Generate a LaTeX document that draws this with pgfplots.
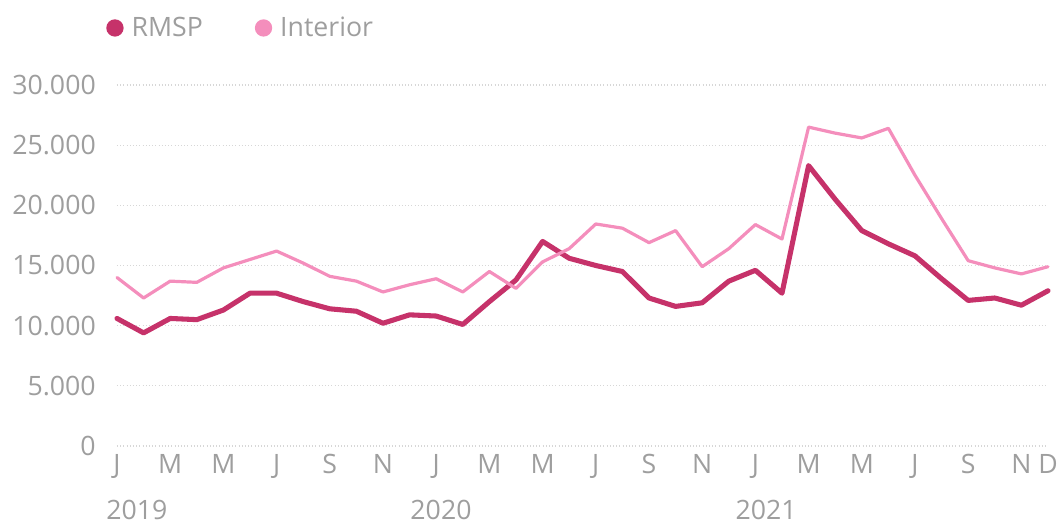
\documentclass[border=0pt]{standalone}
\usepackage{fontspec}
\setmainfont{Open Sans}
\usepackage{pgfplots}
\pgfplotsset{compat=1.18}
\definecolor{rmsp}{RGB}{198,50,106}
\definecolor{interior}{RGB}{244,142,188}
\definecolor{txt}{RGB}{158,158,158}
\definecolor{gridc}{RGB}{215,215,215}
\begin{document}
\begin{tikzpicture}
\path[use as bounding box] (0,0) rectangle (795.75pt,393.75pt);
\begin{axis}[
  at={(87.75pt,59.25pt)}, anchor=south west,
  scale only axis, width=698.25pt, height=270.75pt,
  xmin=0, xmax=35, ymin=0, ymax=30000,
  axis line style={draw=none},
  major tick length=0pt,
  xtick={0,2,4,6,8,10,12,14,16,18,20,22,24,26,28,30,32,34,35},
  xticklabels={J,M,M,J,S,N,J,M,M,J,S,N,J,M,M,J,S,N,D},
  ytick={0,5000,10000,15000,20000,25000,30000},
  scaled y ticks=false,
  /pgf/number format/.cd, 1000 sep={.}, assume math mode=true,
  /pgfplots/.cd,
  ymajorgrids, grid style={gridc, dotted, line width=0.8pt},
  tick label style={font=\fontsize{20}{24}\selectfont, text=txt},
  xticklabel style={anchor=north, inner sep=0pt, yshift=-6pt},
  yticklabel style={anchor=east, inner sep=0pt, xshift=-15.75pt},
  clip=false,
  legend columns=2,
  legend style={draw=none, fill=none, inner sep=0pt, at={(-0.0118,1.158)}, anchor=west,
    font=\fontsize{20}{24}\selectfont, text=txt,
    /tikz/every odd column/.append style={column sep=4pt},
    /tikz/every even column/.append style={column sep=37pt}},
  legend cell align=left,
]
\addplot[color=rmsp, line width=3.8pt, line join=round, line cap=round,
  legend image code/.code={\fill[draw=none] (0pt,0pt) circle (6.5pt);}]
  coordinates {
  (0,10600) (1,9400) (2,10600) (3,10500) (4,11300) (5,12700) (6,12700) (7,12000)
  (8,11400) (9,11200) (10,10200) (11,10900) (12,10800) (13,10100) (14,12000) (15,13800)
  (16,17000) (17,15600) (18,15000) (19,14500) (20,12300) (21,11600) (22,11900) (23,13700)
  (24,14600) (25,12700) (26,23300) (27,20500) (28,17900) (29,16800) (30,15800) (31,13900)
  (32,12100) (33,12300) (34,11700) (35,12900)
  };
\addlegendentry{RMSP}
\addplot[color=interior, line width=2.4pt, line join=round, line cap=round,
  legend image code/.code={\fill[draw=none] (0pt,0pt) circle (6.5pt);}]
  coordinates {
  (0,14000) (1,12300) (2,13700) (3,13600) (4,14800) (5,15500) (6,16200) (7,15200)
  (8,14100) (9,13700) (10,12800) (11,13400) (12,13900) (13,12800) (14,14500) (15,13100)
  (16,15300) (17,16400) (18,18450) (19,18100) (20,16900) (21,17900) (22,14900) (23,16400)
  (24,18400) (25,17200) (26,26500) (27,26000) (28,25600) (29,26400) (30,22500) (31,18900)
  (32,15400) (33,14800) (34,14300) (35,14900)
  };
\addlegendentry{Interior}
\node[text=txt, font=\fontsize{20}{24}\selectfont] at (axis cs:0.75,0) [yshift=-48pt] {2019};
\node[text=txt, font=\fontsize{20}{24}\selectfont] at (axis cs:12.18,0) [yshift=-48pt] {2020};
\node[text=txt, font=\fontsize{20}{24}\selectfont] at (axis cs:24.4,0) [yshift=-48pt] {2021};
\end{axis}
\end{tikzpicture}
\end{document}
